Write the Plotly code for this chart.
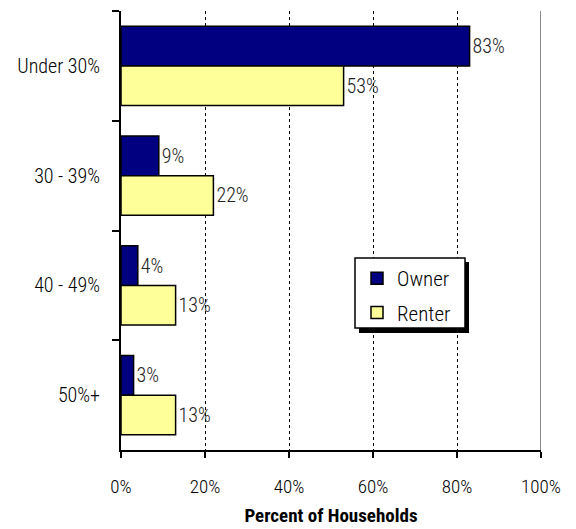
import plotly.graph_objects as go

categories = ["Under 30%", "30 - 39%", "40 - 49%", "50%+"]
owner = [83, 9, 4, 3]
renter = [53, 22, 13, 13]
x_ticks = [0, 20, 40, 60, 80, 100]
x_tick_labels = ["0%", "20%", "40%", "60%", "80%", "100%"]

FONT = "Roboto Condensed, Liberation Sans Narrow, Arial Narrow, Arial, sans-serif"
W = 300

fig = go.Figure()
fig.add_trace(go.Bar(
    name="Owner", y=categories, x=owner, orientation="h", legendgroup="owner",
    marker=dict(color="#000080", line=dict(color="black", width=1.5)),
    text=[f"{v}%" for v in owner], textposition="outside",
    textfont=dict(family=FONT, size=20, color="#222", weight=W), cliponaxis=False,
))
fig.add_trace(go.Bar(
    name="Renter", y=categories, x=renter, orientation="h", legendgroup="renter",
    marker=dict(color="#FFFF99", line=dict(color="black", width=1.5)),
    text=[f"{v}%" for v in renter], textposition="outside",
    textfont=dict(family=FONT, size=20, color="#222", weight=W), cliponaxis=False,
))

# plot area in pixels: x 121..541, y 11..450
pw, ph = 420, 439
def px(x):
    return (x - 121) / pw
def py(y):
    return (450 - y) / ph

# legend frame with drop shadow
fig.add_shape(type="rect", xref="paper", yref="paper",
              x0=px(359), x1=px(469), y0=py(333), y1=py(262),
              fillcolor="black", line=dict(width=0), layer="above")
fig.add_shape(type="rect", xref="paper", yref="paper",
              x0=px(355), x1=px(465), y0=py(328), y1=py(258),
              fillcolor="white", line=dict(color="black", width=1.5), layer="above")
# gray right border at 100%
fig.add_shape(type="line", xref="x", yref="paper", x0=100, x1=100, y0=0, y1=1,
              line=dict(color="#888", width=2), layer="above")

fig.update_layout(
    width=576, height=529,
    margin=dict(l=121, r=35, t=11, b=79),
    paper_bgcolor="white", plot_bgcolor="white",
    barmode="group", bargap=0.28, bargroupgap=0,
    font=dict(family=FONT, size=20, color="black", weight=W),
    showlegend=True,
    legend=dict(
        x=px(357), y=py(258), xanchor="left", yanchor="top",
        bgcolor="rgba(0,0,0,0)", borderwidth=0,
        font=dict(family=FONT, size=21, color="black", weight=W),
        traceorder="grouped", itemwidth=30, tracegroupgap=4,
    ),
    xaxis=dict(
        range=[0, 100], tickvals=x_ticks, ticktext=x_tick_labels,
        showgrid=True, gridcolor="black", griddash="dot", gridwidth=1,
        showline=True, linecolor="black", linewidth=2,
        ticks="outside", ticklen=6, tickwidth=2, tickcolor="black",
        ticklabelstandoff=12, tickfont=dict(size=19),
        zeroline=False, fixedrange=True, automargin=False,
        title=dict(text="<b>Percent of Households</b>", standoff=12,
                   font=dict(family=FONT, size=19, color="black")),
    ),
    yaxis=dict(
        autorange="reversed", showgrid=False, automargin=False,
        showline=True, linecolor="black", linewidth=2,
        ticks="outside", ticklen=7, tickwidth=2, tickcolor="black",
        tickson="boundaries", ticklabelstandoff=15,
    ),
)

fig.write_html("out.html")
